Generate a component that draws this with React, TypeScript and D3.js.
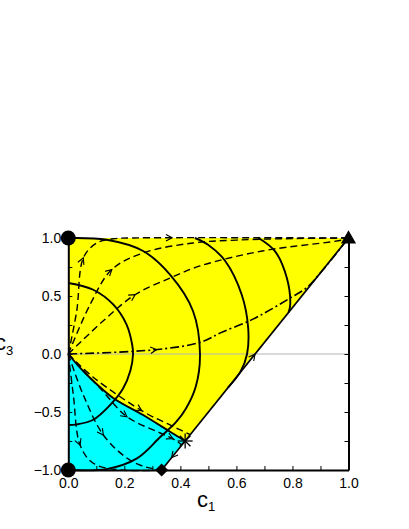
import React, { useEffect, useRef } from 'react';
import * as d3 from 'd3';

type Pt = [number, number];

// tick values
const xLabels = [0, 0.2, 0.4, 0.6, 0.8, 1.0];
const xMinor = [0, 0.1, 0.2, 0.3, 0.4, 0.5, 0.6, 0.7, 0.8, 0.9, 1.0];
const yLabels = [-1, -0.5, 0, 0.5, 1];
const yMinor = [-1, -0.75, -0.5, -0.25, 0, 0.25, 0.5, 0.75, 1];

// fixed points
const nodeTop: Pt = [0, 1];
const nodeBottom: Pt = [0, -1];
const stableNode: Pt = [1, 1];
const saddle: Pt = [0.417, -0.75];
const diamondPt: Pt = [0.333, -1];

// separatrix between yellow and cyan basins (origin -> saddle)
const separatrix: Pt[] = [[0, 0], [0.035, -0.1], [0.078, -0.207], [0.16, -0.379], [0.267, -0.526], [0.363, -0.67], [0.417, -0.75]];

// solid curves
const isoA: Pt[] = [[0, 0.612], [0.089, 0.554], [0.161, 0.425], [0.208, 0.253], [0.228, 0.08], [0.231, 0], [0.222, -0.14], [0.195, -0.3], [0.149, -0.44], [0.089, -0.567], [0.03, -0.607], [0, -0.612]];
const isoB: Pt[] = [[0, 1], [0.137, 0.985], [0.267, 0.888], [0.363, 0.684], [0.445, 0.371], [0.47, 0], [0.455, -0.28], [0.42, -0.47], [0.385, -0.586], [0.328, -0.716], [0.245, -0.9], [0.14, -0.99], [0, -1]];
const isoC: Pt[] = [[0.452, 1], [0.5, 0.94], [0.56, 0.802], [0.619, 0.511], [0.642, 0.224], [0.638, 0], [0.615, -0.15], [0.57, -0.29]];
const isoD: Pt[] = [[0.679, 1], [0.738, 0.885], [0.78, 0.655], [0.792, 0.425], [0.786, 0.358]];

// trajectories (dashed), drawn in flow direction
const traj1: Pt[] = [[0, 0], [0.03, 0.37], [0.054, 0.83], [0.101, 0.957], [0.16, 0.993], [0.22, 1], [1, 1]];
const traj2: Pt[] = [[0, 0], [0.0775, 0.425], [0.155, 0.727], [0.267, 0.871], [0.445, 0.957], [0.6, 0.982], [0.8, 0.995], [1, 1]];
const traj3: Pt[] = [[0, 0], [0.124, 0.284], [0.238, 0.511], [0.363, 0.655], [0.47, 0.759], [0.692, 0.888], [0.979, 0.983], [1, 1]];
const traj4: Pt[] = [[0, 0], [0.31, 0.037], [0.47, 0.1], [0.55, 0.19], [0.65, 0.29], [0.72, 0.38], [0.79, 0.48], [0.85, 0.57], [0.9, 0.7], [1, 1]];
const traj5: Pt[] = [[0, 0], [0.089, -0.2], [0.268, -0.497], [0.363, -0.612], [0.4, -0.655], [0.435, -0.695]];
const traj6: Pt[] = [[0, 0], [0.113, -0.293], [0.209, -0.54], [0.328, -0.681], [0.38, -0.74], [0.405, -0.785]];
const traj7: Pt[] = [[0, 0], [0.0535, -0.353], [0.125, -0.698], [0.209, -0.897], [0.27, -0.97], [0.333, -1]];
const traj8: Pt[] = [[0, 0], [0.018, -0.353], [0.042, -0.784], [0.089, -0.942], [0.185, -1], [0.333, -1]];
const lineUp: Pt[] = [saddle, stableNode];
const lineDown: Pt[] = [saddle, diamondPt];

// where the arrow heads sit
const arrows: { path: Pt[]; at: Pt[] }[] = [
  { path: traj1, at: [[0.054, 0.83], [0.37, 1]] },
  { path: traj2, at: [[0.155, 0.727]] },
  { path: traj3, at: [[0.238, 0.511]] },
  { path: traj4, at: [[0.315, 0.038]] },
  { path: traj5, at: [[0.262, -0.49]] },
  { path: traj6, at: [[0.209, -0.54], [0.374, -0.73]] },
  { path: traj7, at: [[0.125, -0.698]] },
  { path: traj8, at: [[0.042, -0.784]] },
  { path: lineUp, at: [[0.667, 0]] },
  { path: lineDown, at: [[0.369, -0.893]] },
];

const FONT = "'Liberation Sans', Arial, Helvetica, sans-serif";

function Chart() {
  const svgRef = useRef<SVGSVGElement>(null);

  useEffect(() => {
    const svg = d3.select(svgRef.current);
    svg.selectAll('*').remove();

    const x = d3.scaleLinear().domain([0, 1]).range([68.3, 348.5]);
    const y = d3.scaleLinear().domain([-1, 1]).range([470, 238]);

    const straight = d3.line<Pt>().x(d => x(d[0])).y(d => y(d[1]));
    const smooth = d3.line<Pt>().x(d => x(d[0])).y(d => y(d[1])).curve(d3.curveCatmullRom.alpha(0.5));

    // basins
    const sepRev = separatrix.slice().reverse();
    svg.append('path')
      .attr('d', smooth(sepRev) + `L${x(nodeTop[0])},${y(nodeTop[1])}L${x(stableNode[0])},${y(stableNode[1])}Z`)
      .attr('fill', '#ffff00');
    svg.append('path')
      .attr('d', smooth(separatrix) + `L${x(diamondPt[0])},${y(diamondPt[1])}L${x(nodeBottom[0])},${y(nodeBottom[1])}Z`)
      .attr('fill', '#00ffff');

    // zero line
    svg.append('line')
      .attr('x1', x(0)).attr('x2', x(1))
      .attr('y1', y(0)).attr('y2', y(0))
      .attr('stroke', '#b4b4b4').attr('stroke-width', 1);

    // trajectories
    const dashed = [traj1, traj2, traj3, traj5, traj6, traj7, traj8];
    dashed.forEach(t => {
      svg.append('path').attr('d', smooth(t))
        .attr('fill', 'none').attr('stroke', '#000')
        .attr('stroke-width', 1.4).attr('stroke-dasharray', '7,4');
    });
    svg.append('path').attr('d', smooth(traj4))
      .attr('fill', 'none').attr('stroke', '#000')
      .attr('stroke-width', 1.6).attr('stroke-dasharray', '9,3,2,3');

    // solid curves
    [separatrix, isoA, isoB, isoC, isoD].forEach(c => {
      svg.append('path').attr('d', smooth(c))
        .attr('fill', 'none').attr('stroke', '#000').attr('stroke-width', 1.9);
    });
    [lineUp, lineDown].forEach(l => {
      svg.append('path').attr('d', straight(l))
        .attr('fill', 'none').attr('stroke', '#000').attr('stroke-width', 1.7);
    });

    // arrow heads
    const arrowLen = 7;
    const spread = (28 * Math.PI) / 180;
    arrows.forEach(a => {
      const tmp = svg.append('path')
        .attr('d', a.path.length > 2 ? smooth(a.path) : straight(a.path))
        .attr('fill', 'none').attr('stroke', 'none');
      const node = tmp.node() as SVGPathElement;
      const total = node.getTotalLength();
      a.at.forEach(p => {
        const tx = x(p[0]);
        const ty = y(p[1]);
        let best = 0;
        let bestD = Infinity;
        for (let l = 0; l <= total; l += 0.5) {
          const q = node.getPointAtLength(l);
          const dd = (q.x - tx) ** 2 + (q.y - ty) ** 2;
          if (dd < bestD) { bestD = dd; best = l; }
        }
        const p0 = node.getPointAtLength(Math.max(0, best - 1.5));
        const p1 = node.getPointAtLength(Math.min(total, best + 1.5));
        const tip = node.getPointAtLength(best);
        const ang = Math.atan2(p1.y - p0.y, p1.x - p0.x);
        const a1 = ang + Math.PI - spread;
        const a2 = ang + Math.PI + spread;
        svg.append('path')
          .attr('d', `M${tip.x + arrowLen * Math.cos(a1)},${tip.y + arrowLen * Math.sin(a1)}L${tip.x},${tip.y}L${tip.x + arrowLen * Math.cos(a2)},${tip.y + arrowLen * Math.sin(a2)}`)
          .attr('fill', 'none').attr('stroke', '#000').attr('stroke-width', 1.1);
      });
      tmp.remove();
    });

    // axes
    const fmt = d3.format('.1f');
    const styleAxis = (g: d3.Selection<SVGGElement, unknown, null, undefined>) => {
      g.select('.domain').attr('stroke-width', 2);
      g.selectAll('.tick line').attr('stroke-width', 1);
      g.attr('font-family', FONT).attr('font-size', 14);
      g.selectAll('.tick text').attr('fill', '#000');
    };

    svg.append('g')
      .attr('transform', `translate(${x(0)},0)`)
      .call(d3.axisLeft(y).tickValues(yMinor).tickSize(-4).tickSizeOuter(0).tickPadding(7)
        .tickFormat(d => (yLabels.includes(+d) ? fmt(+d) : '')))
      .call(styleAxis);

    svg.append('g')
      .attr('transform', `translate(0,${y(-1)})`)
      .call(d3.axisBottom(x).tickValues(xMinor).tickSize(-4).tickSizeOuter(0).tickPadding(8)
        .tickFormat(d => (xLabels.some(v => Math.abs(v - +d) < 1e-9) ? fmt(+d) : '')))
      .call(styleAxis);

    svg.append('g')
      .attr('transform', `translate(${x(1)},0)`)
      .call(d3.axisRight(y).tickValues(yMinor).tickSize(-4).tickSizeOuter(0).tickFormat(() => ''))
      .call(styleAxis);

    // markers
    [nodeTop, nodeBottom].forEach(p => {
      svg.append('circle').attr('cx', x(p[0])).attr('cy', y(p[1])).attr('r', 7.5).attr('fill', '#000');
    });
    svg.append('path')
      .attr('d', d3.symbol(d3.symbolTriangle, 100)())
      .attr('transform', `translate(${x(stableNode[0])},${y(stableNode[1]) + 1})`)
      .attr('fill', '#000');
    svg.append('path')
      .attr('d', d3.symbol((d3 as any).symbolDiamond2 ?? d3.symbolDiamond, 108)())
      .attr('transform', `translate(${x(diamondPt[0])},${y(diamondPt[1])})`)
      .attr('fill', '#000');
    const star = svg.append('g').attr('transform', `translate(${x(saddle[0])},${y(saddle[1])})`);
    [0, 45, 90, 135].forEach(deg => {
      const r = 7.5;
      const t = (deg * Math.PI) / 180;
      star.append('line')
        .attr('x1', -r * Math.cos(t)).attr('y1', -r * Math.sin(t))
        .attr('x2', r * Math.cos(t)).attr('y2', r * Math.sin(t))
        .attr('stroke', '#000').attr('stroke-width', 1.3);
    });

    // axis titles
    const xt = svg.append('text').attr('x', 197).attr('y', 507)
      .attr('font-family', FONT).attr('font-size', 22).text('c');
    xt.append('tspan').attr('dy', 4).attr('font-size', 13).text('1');
    const yt = svg.append('text').attr('x', -5).attr('y', 350)
      .attr('font-family', FONT).attr('font-size', 22).text('c');
    yt.append('tspan').attr('dy', 5).attr('font-size', 13).text('3');
  }, []);

  return (
    <svg ref={svgRef} width={409} height={529}
      style={{ position: 'absolute', left: 0, top: 0, background: '#fff' }} />
  );
}

export default function App() {
  return <Chart />;
}
